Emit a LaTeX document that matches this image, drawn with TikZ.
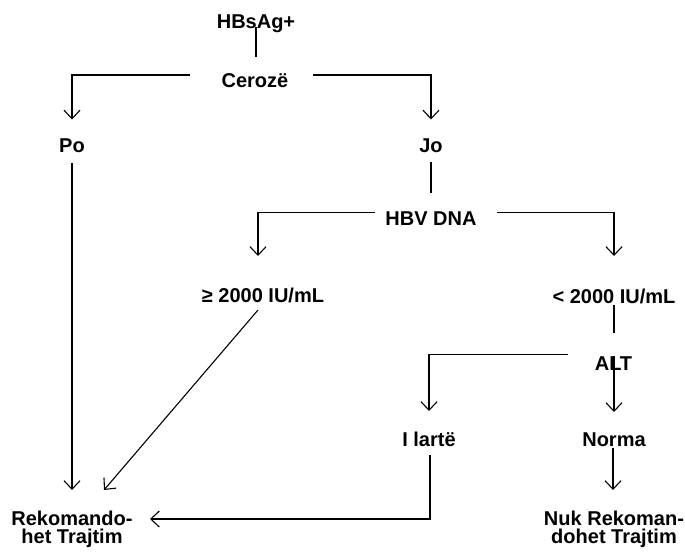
\documentclass[tikz,border=0pt]{standalone}
\usepackage{fontspec}
\setmainfont{Liberation Sans}
\usetikzlibrary{arrows.meta}
\begin{document}
\begin{tikzpicture}[x=1pt,y=-1pt,
  lbl/.style={font=\fontsize{20}{18.5}\selectfont\bfseries, inner sep=0pt, anchor=base},
  twoline/.style={font=\fontsize{20}{18.5}\selectfont\bfseries, inner sep=0pt, anchor=north, align=center},
  ln/.style={line width=1.1pt, black},
  arr/.style={ln, -{Straight Barb[length=8.5pt,width=16pt,line width=1.1pt]}}]
\useasboundingbox (0,0) rectangle (685,558);

% decision labels
\node[lbl] (hbs)    at (256,28.3)  {HBsAg+};
\node[lbl] (cer)    at (255,87.5)  {Cerozë};
\node[lbl] (po)     at (72,152.5)  {Po};
\node[lbl] (jo)     at (431,152.5) {Jo};
\node[lbl] (hbv)    at (431,225.7) {HBV DNA};
\node[lbl] (ge)     at (263,302.7) {≥ 2000 IU/mL};
\node[lbl] (lt)     at (614,303)   {< 2000 IU/mL};
\node[lbl] (alt)    at (613.5,370) {ALT};
\node[lbl] (larte)  at (429,446)   {I lartë};
\node[lbl] (norma)  at (614,446)   {Norma};
\node[twoline] (rek) at (72,510.5)  {Rekomando-\\het Trajtim};
\node[twoline] (nuk) at (614,510.5) {Nuk Rekoman-\\dohet Trajtim};

% connector end points
\coordinate (hbsOut) at (256,27);
\coordinate (cerIn)  at (256,57);
\coordinate (cerL)   at (190,75);
\coordinate (cerR)   at (313,75);
\coordinate (poIn)   at (72,119.5);
\coordinate (joIn)   at (431,119.5);
\coordinate (poOut)  at (72,163);
\coordinate (rekTop) at (72,490);
\coordinate (joOut)  at (431,162);
\coordinate (hbvIn)  at (431,193);
\coordinate (hbvL)   at (375,212.5);
\coordinate (hbvR)   at (497,212.5);
\coordinate (geIn)   at (258,256);
\coordinate (ltIn)   at (614,256);
\coordinate (geOut)  at (258,310);
\coordinate (rekDiag) at (104,490);
\coordinate (ltOut)  at (614,305);
\coordinate (altIn)  at (614,333);
\coordinate (altL)   at (568,354.5);
\coordinate (larteIn) at (429,411);
\coordinate (altOut) at (614,356);
\coordinate (normaIn) at (614,412);
\coordinate (larteOut) at (430,455);
\coordinate (rekSide) at (150,519);
\coordinate (normaOut) at (613,448);
\coordinate (nukTop) at (613,490);

% connectors
\draw[ln]  (hbsOut) -- (cerIn);
\draw[arr] (cerL) -| (poIn);
\draw[arr] (cerR) -| (joIn);
\draw[arr] (poOut) -- (rekTop);
\draw[ln]  (joOut) -- (hbvIn);
\draw[arr] (hbvL) -| (geIn);
\draw[arr] (hbvR) -| (ltIn);
\draw[arr] (geOut) -- (rekDiag);
\draw[ln]  (ltOut) -- (altIn);
\draw[arr] (altL) -| (larteIn);
\draw[arr] (altOut) -- (normaIn);
\draw[arr] (larteOut) |- (rekSide);
\draw[arr] (normaOut) -- (nukTop);
\end{tikzpicture}
\end{document}
